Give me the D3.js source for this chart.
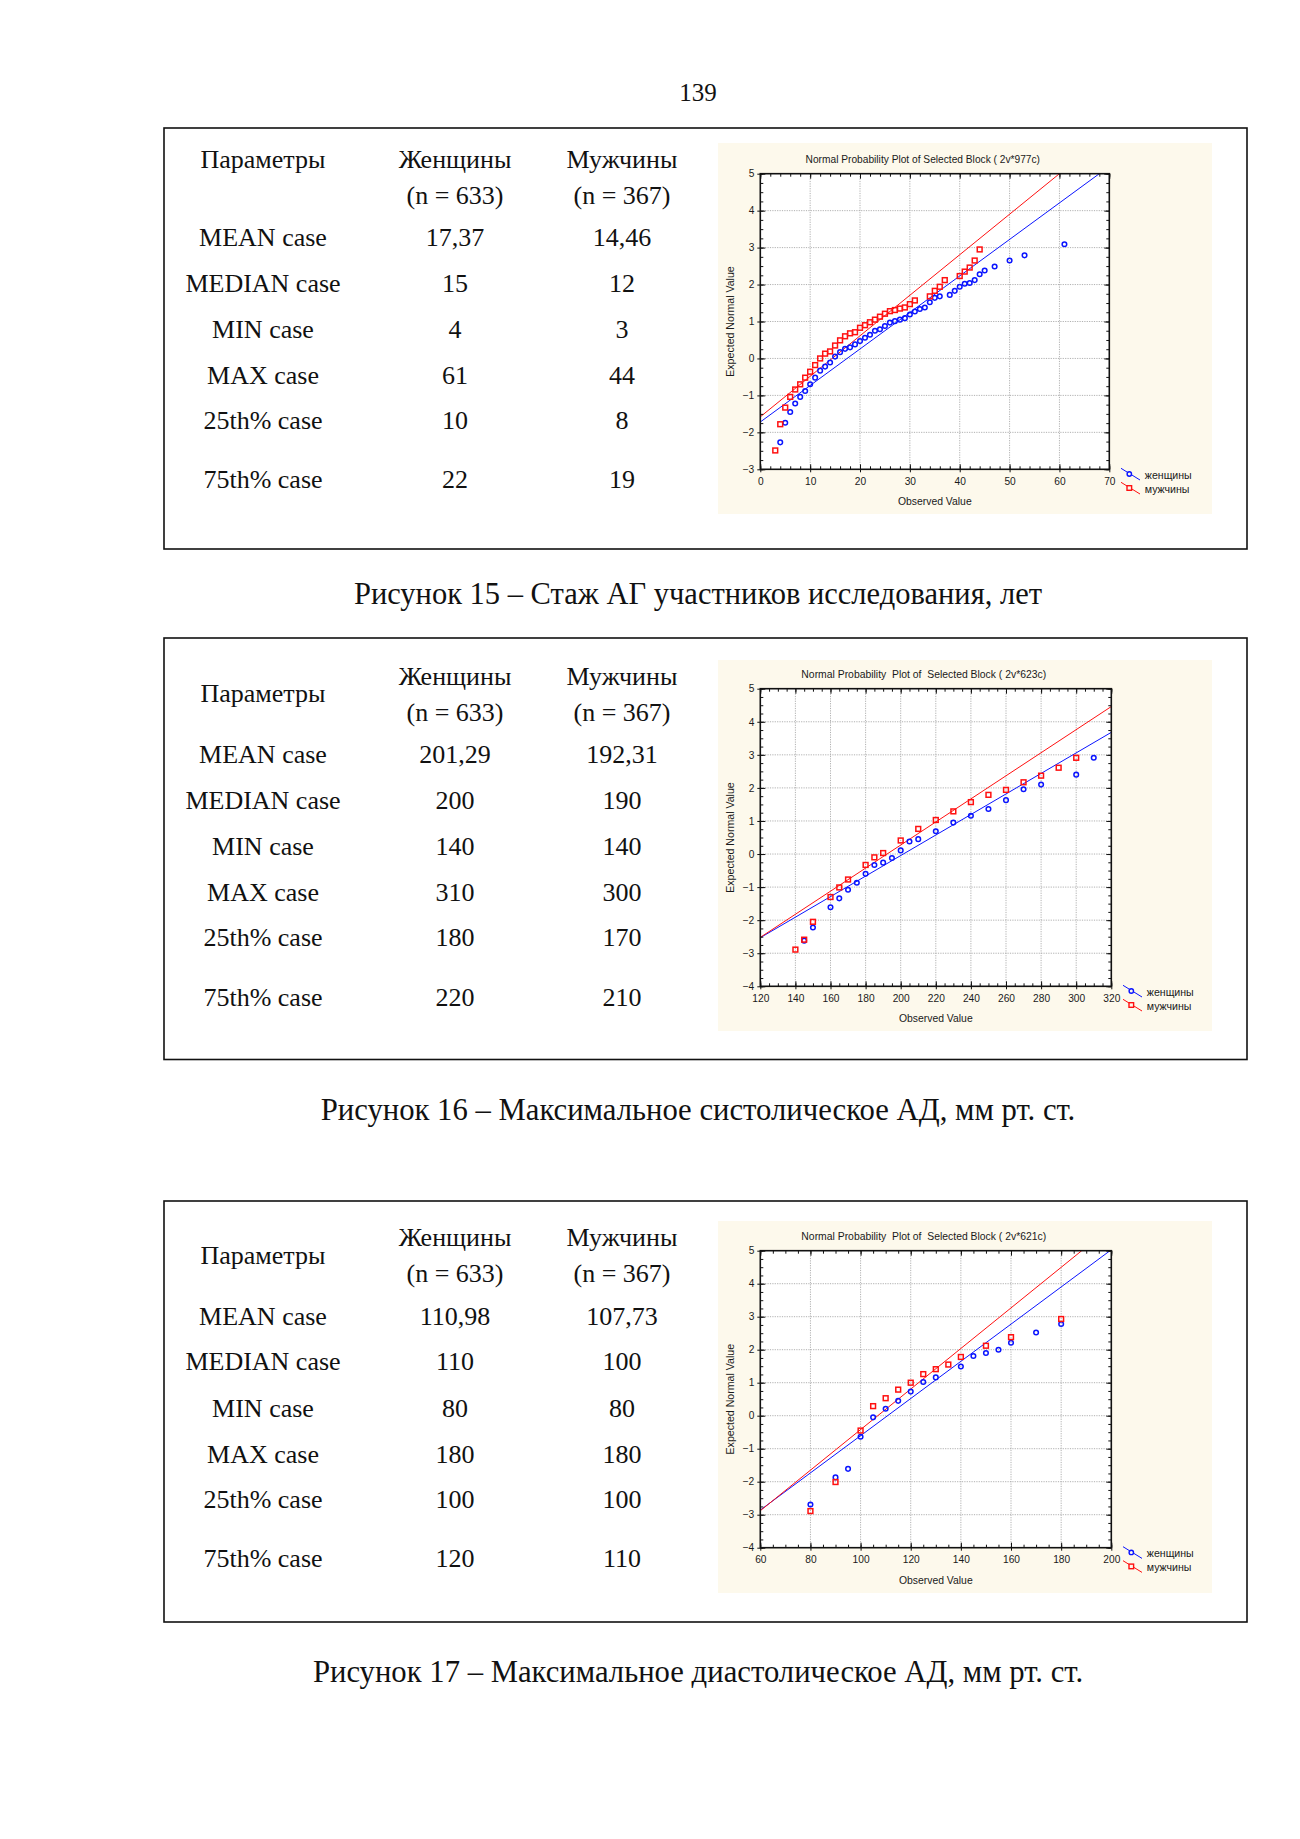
<!DOCTYPE html>
<html><head><meta charset="utf-8">
<script src="https://cdn.jsdelivr.net/npm/d3@7"></script>
<style>body{margin:0;background:#fff} svg{display:block}</style>
</head><body>
<svg id="page" width="1300" height="1839"></svg>
<script>
// ---------- DATA ----------
const pageNumber = "139";
const headerParam = "Параметры";
const headerWomen = ["Женщины", "(n = 633)"];
const headerMen = ["Мужчины", "(n = 367)"];
const rowLabels = ["MEAN case", "MEDIAN case", "MIN case", "MAX case", "25th% case", "75th% case"];

const fig15Women = ["17,37", "15", "4", "61", "10", "22"];
const fig15Men = ["14,46", "12", "3", "44", "8", "19"];
const fig16Women = ["201,29", "200", "140", "310", "180", "220"];
const fig16Men = ["192,31", "190", "140", "300", "170", "210"];
const fig17Women = ["110,98", "110", "80", "180", "100", "120"];
const fig17Men = ["107,73", "100", "80", "180", "100", "110"];

const captions = [
  "Рисунок 15 – Стаж АГ участников исследования, лет",
  "Рисунок 16 – Максимальное систолическое АД, мм рт. ст.",
  "Рисунок 17 – Максимальное диастолическое АД, мм рт. ст."
];
const chartTitles = [
  "Normal Probability Plot of Selected Block ( 2v*977c)",
  "Normal Probability  Plot of  Selected Block ( 2v*623c)",
  "Normal Probability  Plot of  Selected Block ( 2v*621c)"
];
const xAxisTitle = "Observed Value";
const yAxisTitle = "Expected Normal Value";
const legendLabels = ["женщины", "мужчины"];

const fig15XTicks = [0, 10, 20, 30, 40, 50, 60, 70];
const fig15YTicks = [-3, -2, -1, 0, 1, 2, 3, 4, 5];
const fig16XTicks = [120, 140, 160, 180, 200, 220, 240, 260, 280, 300, 320];
const fig16YTicks = [-4, -3, -2, -1, 0, 1, 2, 3, 4, 5];
const fig17XTicks = [60, 80, 100, 120, 140, 160, 180, 200];
const fig17YTicks = [-4, -3, -2, -1, 0, 1, 2, 3, 4, 5];

const fig15WomenPts = [[4,-2.27],[5,-1.74],[6,-1.45],[7,-1.22],[8,-1.04],[9,-0.88],[10,-0.70],[11,-0.52],[12,-0.33],[13,-0.22],[14,-0.11],[15,0.05],[16,0.17],[17,0.26],[18,0.30],[19,0.38],[20,0.47],[21,0.56],[22,0.64],[23,0.75],[24,0.79],[25,0.88],[26,0.97],[27,1.01],[28,1.05],[29,1.09],[30,1.19],[31,1.27],[32,1.34],[33,1.38],[34,1.52],[35,1.64],[36,1.68],[38,1.72],[39,1.83],[40,1.94],[41,2.02],[42,2.04],[43,2.12],[44,2.28],[45,2.38],[47,2.49],[50,2.65],[53,2.79],[61,3.09]];
const fig15MenPts = [[3,-2.49],[4,-1.78],[5,-1.33],[6,-1.04],[7,-0.84],[8,-0.70],[9,-0.52],[10,-0.36],[11,-0.18],[12,0.00],[13,0.13],[14,0.19],[15,0.35],[16,0.49],[17,0.60],[18,0.68],[19,0.71],[20,0.83],[21,0.90],[22,0.98],[23,1.05],[24,1.13],[25,1.21],[26,1.28],[27,1.31],[28,1.35],[29,1.38],[30,1.47],[31,1.57],[34,1.68],[35,1.83],[36,1.94],[37,2.12],[40,2.23],[41,2.35],[42,2.46],[43,2.65],[44,2.95]];
const fig15WomenLine = [[0,-1.72],[68,5]];
const fig15MenLine = [[0,-1.58],[60,5]];

const fig16WomenPts = [[145,-2.62],[150,-2.22],[160,-1.61],[165,-1.34],[170,-1.08],[175,-0.87],[180,-0.60],[185,-0.33],[190,-0.26],[195,-0.12],[200,0.11],[205,0.38],[210,0.45],[220,0.69],[230,0.95],[240,1.16],[250,1.36],[260,1.63],[270,1.96],[280,2.10],[300,2.40],[310,2.91]];
const fig16MenPts = [[140,-2.89],[145,-2.59],[150,-2.05],[160,-1.30],[165,-1.01],[170,-0.77],[180,-0.33],[185,-0.10],[190,0.03],[200,0.41],[210,0.76],[220,1.03],[230,1.29],[240,1.57],[250,1.79],[260,1.94],[270,2.17],[280,2.37],[290,2.61],[300,2.91]];
const fig16WomenLine = [[120,-2.53],[320,3.68]];
const fig16MenLine = [[120,-2.52],[320,4.46]];

const fig17WomenPts = [[80,-2.69],[90,-1.87],[95,-1.61],[100,-0.64],[105,-0.05],[110,0.21],[115,0.45],[120,0.73],[125,1.02],[130,1.16],[140,1.49],[145,1.81],[150,1.90],[155,2.00],[160,2.21],[170,2.52],[180,2.78]];
const fig17MenPts = [[80,-2.89],[90,-2.01],[100,-0.45],[105,0.29],[110,0.53],[115,0.79],[120,1.00],[125,1.26],[130,1.41],[135,1.55],[140,1.78],[150,2.12],[160,2.38],[180,2.93]];
const fig17WomenLine = [[60,-2.86],[199.5,5]];
const fig17MenLine = [[60,-2.88],[188.2,5]];

// ---------- LAYOUT ----------
const SERIF = "'Liberation Serif','Times New Roman',serif";
const SANS = "'Liberation Sans',Arial,sans-serif";
const BLUE = "#0a14ff", RED = "#ff1010";
const CREAM = "#fdf9ec";
const colX = [263, 455, 622];

const figures = [
  { box: {x:164, y:128, w:1083, h:421}, paramY: 31, col1Y: 31, col2Y: 67.5,
    rowY: [109, 155, 201, 247, 292.5, 351.5],
    women: fig15Women, men: fig15Men, caption: captions[0], captionY: 594, capFs: 30.5,
    chart: { title: chartTitles[0], titleFs: 10.2,
      panel: {x:718, y:143, w:494, h:371}, plot: {x:760.3, y:173.7, w:349, h:295.6},
      xDomain:[0,70], yDomain:[-3,5], xTicks: fig15XTicks, yTicks: fig15YTicks, xMinor: 2, yMinor: 0.25,
      wPts: fig15WomenPts, mPts: fig15MenPts, wLine: fig15WomenLine, mLine: fig15MenLine } },
  { box: {x:164, y:638, w:1083, h:421.5}, paramY: 55, col1Y: 38, col2Y: 74,
    rowY: [116.5, 162, 208, 254, 299.5, 359],
    women: fig16Women, men: fig16Men, caption: captions[1], captionY: 1110, capFs: 30.7,
    chart: { title: chartTitles[1], titleFs: 10.4,
      panel: {x:718, y:660, w:494, h:371}, plot: {x:760.3, y:688.7, w:351, h:297.6},
      xDomain:[120,320], yDomain:[-4,5], xTicks: fig16XTicks, yTicks: fig16YTicks, xMinor: 5, yMinor: 0.25,
      wPts: fig16WomenPts, mPts: fig16MenPts, wLine: fig16WomenLine, mLine: fig16MenLine } },
  { box: {x:164, y:1201, w:1083, h:421}, paramY: 54, col1Y: 36, col2Y: 72,
    rowY: [115, 160, 207, 253, 298.5, 357],
    women: fig17Women, men: fig17Men, caption: captions[2], captionY: 1672, capFs: 30.7,
    chart: { title: chartTitles[2], titleFs: 10.4,
      panel: {x:718, y:1221, w:494, h:372}, plot: {x:760.3, y:1250.7, w:351, h:297},
      xDomain:[60,200], yDomain:[-4,5], xTicks: fig17XTicks, yTicks: fig17YTicks, xMinor: 5, yMinor: 0.25,
      wPts: fig17WomenPts, mPts: fig17MenPts, wLine: fig17WomenLine, mLine: fig17MenLine } }
];

// ---------- DRAW ----------
const svg = d3.select("#page");
svg.append("rect").attr("width", 1300).attr("height", 1839).attr("fill", "#fff");

svg.append("text").attr("x", 698).attr("y", 93).attr("dy", "0.33em")
  .attr("text-anchor", "middle").attr("font-family", SERIF).attr("font-size", 25)
  .attr("fill", "#111").text(pageNumber);

const TFS = 26;
function tText(g, x, y, s) {
  g.append("text").attr("x", x).attr("y", y).attr("dy", "0.33em")
    .attr("text-anchor", "middle").attr("font-family", SERIF).attr("font-size", TFS)
    .attr("fill", "#111").text(s);
}

figures.forEach((f, i) => {
  const g = svg.append("g");
  g.append("rect").attr("x", f.box.x).attr("y", f.box.y).attr("width", f.box.w).attr("height", f.box.h)
    .attr("fill", "none").attr("stroke", "#111").attr("stroke-width", 1.6);
  const by = f.box.y;
  tText(g, colX[0], by + f.paramY, headerParam);
  tText(g, colX[1], by + f.col1Y, headerWomen[0]);
  tText(g, colX[1], by + f.col2Y, headerWomen[1]);
  tText(g, colX[2], by + f.col1Y, headerMen[0]);
  tText(g, colX[2], by + f.col2Y, headerMen[1]);
  rowLabels.forEach((r, k) => {
    tText(g, colX[0], by + f.rowY[k], r);
    tText(g, colX[1], by + f.rowY[k], f.women[k]);
    tText(g, colX[2], by + f.rowY[k], f.men[k]);
  });
  svg.append("text").attr("x", 698).attr("y", f.captionY).attr("dy", "0.33em")
    .attr("text-anchor", "middle").attr("font-family", SERIF).attr("font-size", f.capFs)
    .attr("fill", "#111").text(f.caption);
  drawChart(svg.append("g"), f.chart, i);
});

function minorVals(domain, step) {
  const out = [];
  for (let v = domain[0]; v <= domain[1] + 1e-9; v += step) out.push(+v.toFixed(6));
  return out;
}

function drawChart(g, c, idx) {
  const p = c.plot;
  const x = d3.scaleLinear().domain(c.xDomain).range([p.x, p.x + p.w]);
  const y = d3.scaleLinear().domain(c.yDomain).range([p.y + p.h, p.y]);

  g.append("rect").attr("x", c.panel.x).attr("y", c.panel.y).attr("width", c.panel.w).attr("height", c.panel.h)
    .attr("fill", CREAM);
  g.append("rect").attr("x", p.x).attr("y", p.y).attr("width", p.w).attr("height", p.h).attr("fill", "#fff");

  // grid
  const grid = g.append("g").attr("stroke", "#a8a8a8").attr("stroke-width", 0.9).attr("stroke-dasharray", "1.2,1.2");
  grid.selectAll(".gx").data(c.xTicks.slice(1, -1)).join("line")
    .attr("x1", d => x(d)).attr("x2", d => x(d)).attr("y1", p.y).attr("y2", p.y + p.h);
  grid.selectAll(".gy").data(c.yTicks.slice(1, -1)).join("line")
    .attr("x1", p.x).attr("x2", p.x + p.w).attr("y1", d => y(d)).attr("y2", d => y(d));

  // clip
  const cid = "clip" + idx;
  g.append("clipPath").attr("id", cid).append("rect").attr("x", p.x).attr("y", p.y).attr("width", p.w).attr("height", p.h);

  // fit lines
  const line = d3.line().x(d => x(d[0])).y(d => y(d[1]));
  const lg = g.append("g").attr("clip-path", `url(#${cid})`);
  lg.append("path").attr("d", line(c.wLine)).attr("stroke", BLUE).attr("stroke-width", 1).attr("fill", "none");
  lg.append("path").attr("d", line(c.mLine)).attr("stroke", RED).attr("stroke-width", 1).attr("fill", "none");

  // points
  g.append("g").selectAll("circle").data(c.wPts).join("circle")
    .attr("cx", d => x(d[0])).attr("cy", d => y(d[1])).attr("r", 2.3)
    .attr("fill", "none").attr("stroke", BLUE).attr("stroke-width", 1.5);
  const s = 4.8;
  g.append("g").selectAll("rect").data(c.mPts).join("rect")
    .attr("x", d => x(d[0]) - s / 2).attr("y", d => y(d[1]) - s / 2).attr("width", s).attr("height", s)
    .attr("fill", "none").attr("stroke", RED).attr("stroke-width", 1.5);

  // axes with labels (outward major ticks)
  const axB = g.append("g").attr("transform", `translate(0,${p.y + p.h})`)
    .call(d3.axisBottom(x).tickValues(c.xTicks).tickSizeInner(3).tickSizeOuter(0).tickPadding(5).tickFormat(d3.format("d")));
  const axL = g.append("g").attr("transform", `translate(${p.x},0)`)
    .call(d3.axisLeft(y).tickValues(c.yTicks).tickSizeInner(3).tickSizeOuter(0).tickPadding(3).tickFormat(d3.format("d")));
  [axB, axL].forEach(a => {
    a.select(".domain").remove();
    a.selectAll("line").attr("stroke", "#111");
    a.selectAll("text").attr("font-family", SANS).attr("font-size", 10.2).attr("fill", "#1a1a1a");
  });

  // inward ticks on all four sides
  function inward(axisGen, tr, vals, size) {
    const a = g.append("g").attr("transform", tr)
      .call(axisGen.tickValues(vals).tickSizeInner(-size).tickSizeOuter(0).tickFormat(""));
    a.select(".domain").remove();
    a.selectAll("line").attr("stroke", "#111").attr("stroke-width", 1);
  }
  const xm = minorVals(c.xDomain, c.xMinor), ym = minorVals(c.yDomain, c.yMinor);
  inward(d3.axisBottom(x), `translate(0,${p.y + p.h})`, xm, 3);
  inward(d3.axisTop(x), `translate(0,${p.y})`, xm, 3);
  inward(d3.axisLeft(y), `translate(${p.x},0)`, ym, 3);
  inward(d3.axisRight(y), `translate(${p.x + p.w},0)`, ym, 3);
  inward(d3.axisBottom(x), `translate(0,${p.y + p.h})`, c.xTicks, 5);
  inward(d3.axisTop(x), `translate(0,${p.y})`, c.xTicks, 5);
  inward(d3.axisLeft(y), `translate(${p.x},0)`, c.yTicks, 5);
  inward(d3.axisRight(y), `translate(${p.x + p.w},0)`, c.yTicks, 5);

  // frame
  g.append("rect").attr("x", p.x).attr("y", p.y).attr("width", p.w).attr("height", p.h)
    .attr("fill", "none").attr("stroke", "#111").attr("stroke-width", 1.6);

  // titles
  g.append("text").attr("x", p.x + p.w / 2 - 12).attr("y", p.y - 14.7).attr("dy", "0.35em")
    .attr("text-anchor", "middle").attr("font-family", SANS).attr("font-size", c.titleFs)
    .attr("fill", "#1a1a1a").attr("xml:space", "preserve").style("white-space", "pre").text(c.title);
  g.append("text").attr("x", p.x + p.w / 2).attr("y", p.y + p.h + 32.5).attr("dy", "0.35em")
    .attr("text-anchor", "middle").attr("font-family", SANS).attr("font-size", 10.4)
    .attr("fill", "#1a1a1a").text(xAxisTitle);
  g.append("text").attr("transform", `translate(${p.x - 29.6},${p.y + p.h / 2}) rotate(-90)`).attr("dy", "0.35em")
    .attr("text-anchor", "middle").attr("font-family", SANS).attr("font-size", 10.6)
    .attr("fill", "#1a1a1a").text(yAxisTitle);

  // legend
  const lx = p.x + p.w;
  [[BLUE, legendLabels[0], 5.7, "c"], [RED, legendLabels[1], 19.7, "s"]].forEach(([col, lab, dy, shape]) => {
    const cy = p.y + p.h + dy;
    g.append("line").attr("x1", lx + 11.7).attr("y1", cy - 6.7).attr("x2", lx + 30.7).attr("y2", cy + 5)
      .attr("stroke", col).attr("stroke-width", 1);
    if (shape === "c") {
      g.append("circle").attr("cx", lx + 20).attr("cy", cy - 1).attr("r", 2.2)
        .attr("fill", CREAM).attr("stroke", col).attr("stroke-width", 1.4);
    } else {
      g.append("rect").attr("x", lx + 20 - 2.3).attr("y", cy - 1 - 2.3).attr("width", 4.6).attr("height", 4.6)
        .attr("fill", CREAM).attr("stroke", col).attr("stroke-width", 1.4);
    }
    g.append("text").attr("x", lx + 35.5).attr("y", cy).attr("dy", "0.35em")
      .attr("font-family", SANS).attr("font-size", 10.6).attr("fill", "#1a1a1a").text(lab);
  });
}
</script>
</body></html>
